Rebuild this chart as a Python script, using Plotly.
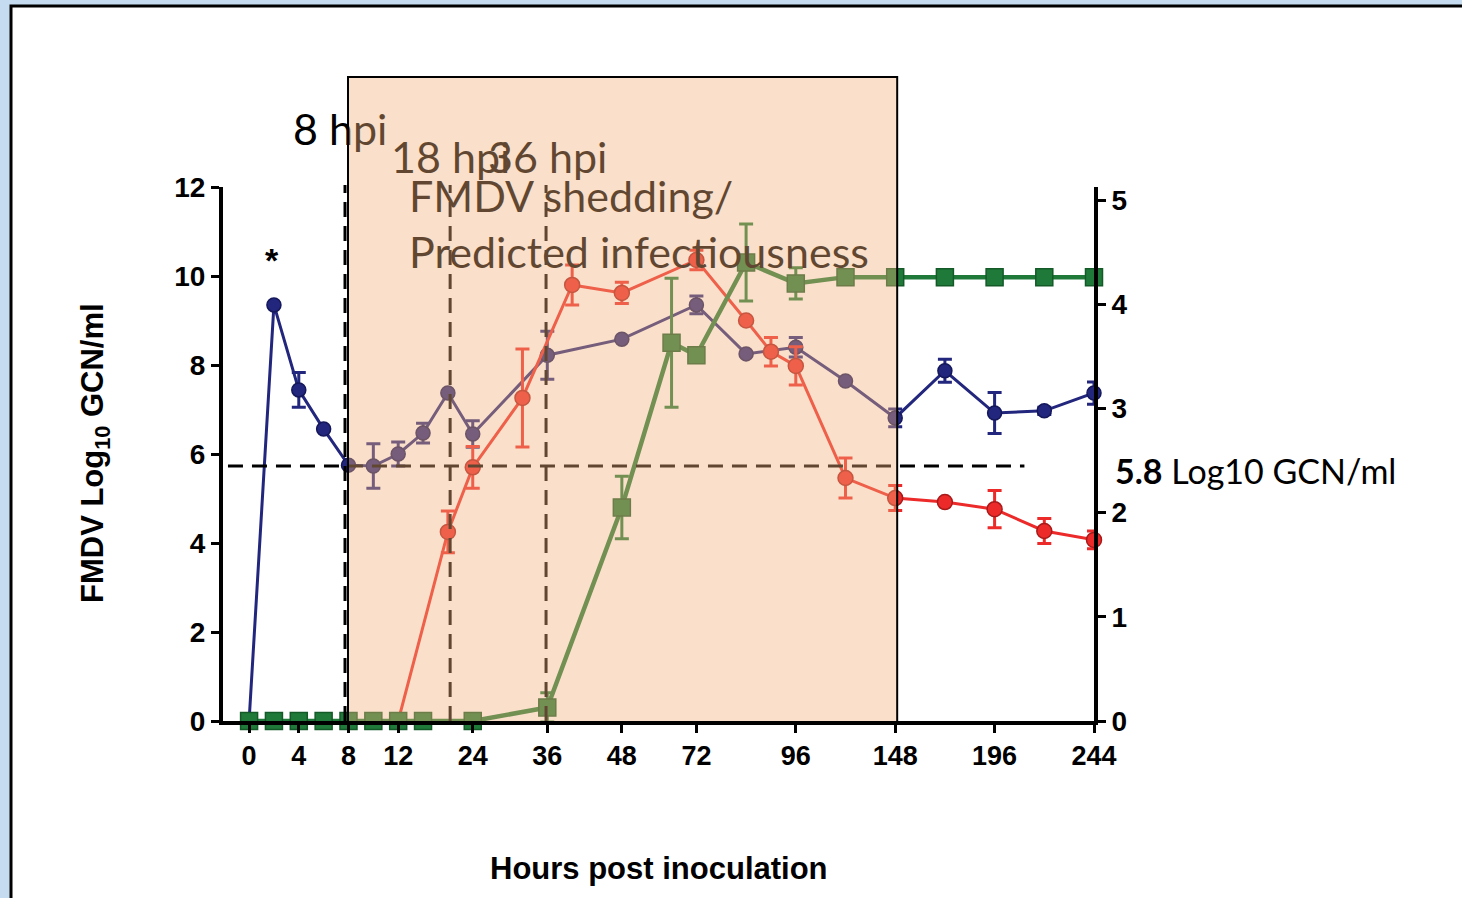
import plotly.graph_objects as go

# ---- data (x = sample index along the categorical time axis) ----
tick_pos = [0, 2, 4, 6, 9, 12, 15, 18, 22, 26, 30, 34]
tick_labels = ["0", "4", "8", "12", "24", "36", "48", "72", "96", "148", "196", "244"]

blue_x = [0, 1, 2, 3, 4, 5, 6, 7, 8, 9, 12, 15, 18, 20, 22, 24, 26, 28, 30, 32, 34]
blue_y = [0, 9.35, 7.44, 6.56, 5.75, 5.73, 6.0, 6.47, 7.37, 6.45, 8.22, 8.58, 9.35,
          8.25, 8.4, 7.64, 6.81, 7.87, 6.92, 6.97, 7.37]
blue_err = [0, 0, 0.39, 0, 0, 0.5, 0.27, 0.22, 0, 0.3, 0.54, 0, 0.2,
            0, 0.22, 0, 0.2, 0.26, 0.46, 0.08, 0.25]

red_x = [0, 1, 2, 3, 4, 5, 6, 8, 9, 11, 13, 15, 18, 20, 21, 22, 24, 26, 28, 30, 32, 34]
red_y = [0, 0, 0, 0, 0, 0, 0, 4.25, 5.7, 7.26, 9.8, 9.62, 10.36, 9.0, 8.3, 7.98,
         5.46, 5.01, 4.92, 4.76, 4.27, 4.07]
red_err = [0, 0, 0, 0, 0, 0, 0, 0.47, 0.47, 1.1, 0.45, 0.24, 0.22, 0, 0.32, 0.43,
           0.45, 0.28, 0, 0.42, 0.28, 0.2]

green_x = [0, 1, 2, 3, 4, 5, 6, 7, 9, 12, 15, 17, 18, 20, 22, 24, 26, 28, 30, 32, 34]
green_y = [0, 0, 0, 0, 0, 0, 0, 0, 0, 0.13, 2.05, 3.63, 3.51, 4.4, 4.2,
           4.26, 4.26, 4.26, 4.26, 4.26, 4.26]
green_err = [0, 0, 0, 0, 0, 0, 0, 0, 0, 0.14, 0.3, 0.62, 0, 0.37, 0.15,
             0, 0, 0, 0, 0, 0]

threshold = 5.73
hpi_lines = [3.86, 8.09, 11.95]
shade_x = [3.98, 26.08]

label_texts = ["8 hpi", "18 hpi", "36 hpi", "FMDV shedding/", "Predicted infectiousness"]
label_px = [290, 388, 485, 406, 406]   # left edge, picture pixels
label_py = [127, 155, 155, 194, 250]   # vertical centre, picture pixels

# plot-area geometry in picture pixels
PL, PR, PT, PB = 223, 1094, 187, 721
PW, PH = PR - PL, PB - PT


def px2paper(px):
    return (px - PL) / PW


def py2paper(py):
    return (PB - py) / PH


BLUE = "#22267c"
RED = "#ec2a2a"
GREEN = "#1f7a3a"
TICKFONT = dict(family="Liberation Sans, Arial", size=27, color="black", weight="bold")
LABELFONT = dict(family="Lato, Carlito, Calibri, sans-serif", size=43, color="black")

fig = go.Figure()

fig.add_trace(go.Scatter(
    x=blue_x, y=blue_y, mode="lines+markers",
    line=dict(color=BLUE, width=3),
    marker=dict(symbol="circle", size=14, color=BLUE, line=dict(color="#14175a", width=1.5)),
    error_y=dict(type="data", array=blue_err, color=BLUE, thickness=3, width=7),
    cliponaxis=False, showlegend=False))

fig.add_trace(go.Scatter(
    x=red_x, y=red_y, mode="lines+markers",
    line=dict(color=RED, width=3),
    marker=dict(symbol="circle", size=15, color=RED, line=dict(color="#a81a1a", width=1.5)),
    error_y=dict(type="data", array=red_err, color=RED, thickness=3, width=7),
    cliponaxis=False, showlegend=False))

fig.add_trace(go.Scatter(
    x=green_x, y=green_y, yaxis="y2", mode="lines+markers",
    line=dict(color=GREEN, width=4.5),
    marker=dict(symbol="square", size=17, color=GREEN, line=dict(color="#145a28", width=1.5)),
    error_y=dict(type="data", array=green_err, color=GREEN, thickness=3, width=7),
    cliponaxis=False, showlegend=False))

shapes = []
# white framed panel
shapes.append(dict(type="rect", xref="paper", yref="paper",
                   x0=px2paper(11), x1=px2paper(1480), y0=py2paper(920), y1=py2paper(6),
                   fillcolor="white", line=dict(color="black", width=3), layer="below"))
# text labels (drawn as shape labels so the shaded overlay sits on top of them)
for t, lx, ly in zip(label_texts, label_px, label_py):
    shapes.append(dict(type="rect", xref="paper", yref="paper",
                       x0=px2paper(lx), x1=px2paper(lx + 500),
                       y0=py2paper(ly + 10), y1=py2paper(ly - 10),
                       fillcolor="rgba(0,0,0,0)", line=dict(width=0), layer="above",
                       label=dict(text=t, textposition="middle left", padding=0, font=LABELFONT)))
# threshold line
shapes.append(dict(type="line", xref="x", yref="y", x0=-0.85, x1=31.2, y0=threshold, y1=threshold,
                   line=dict(color="black", width=3, dash="15px,9px"), layer="above"))
# vertical hpi lines
for xv in hpi_lines:
    shapes.append(dict(type="line", xref="x", yref="paper", x0=xv, x1=xv, y0=0, y1=py2paper(185),
                       line=dict(color="black", width=3, dash="15px,9px"), layer="above"))
# shaded infectious window overlay
top = py2paper(77)
shapes.append(dict(type="rect", xref="x", yref="paper", x0=shade_x[0], x1=shade_x[1], y0=0, y1=top,
                   fillcolor="rgba(242,177,122,0.4)", line=dict(width=0), layer="above"))
shapes.append(dict(type="path", xref="x", yref="paper",
                   path=f"M {shade_x[0]},0 L {shade_x[0]},{top} L {shade_x[1]},{top} L {shade_x[1]},0",
                   line=dict(color="black", width=2), layer="above"))

annotations = [
    dict(text="*", x=0.93, y=10.35, xref="x", yref="y", showarrow=False,
         font=dict(family="Liberation Sans, Arial", size=34, color="black", weight="bold")),
    dict(text="<b>5.8</b> Log10 GCN/ml", x=px2paper(1113), y=5.64, xref="paper", yref="y",
         showarrow=False, xanchor="left", yanchor="middle",
         font=dict(family="Lato, Carlito, sans-serif", size=34, color="black")),
    dict(text="Hours post inoculation", x=px2paper(659), y=py2paper(868),
         xref="paper", yref="paper", showarrow=False, xanchor="center", yanchor="middle",
         font=dict(family="Liberation Sans, Arial", size=31, color="black", weight="bold")),
    dict(text="FMDV Log<sub>10</sub> GCN/ml", x=px2paper(95), y=py2paper(453),
         xref="paper", yref="paper", showarrow=False, textangle=-90,
         xanchor="center", yanchor="middle",
         font=dict(family="Liberation Sans, Arial", size=31, color="black", weight="bold")),
]

fig.update_layout(
    width=1462, height=898,
    margin=dict(l=PL, r=1462 - PR, t=PT, b=898 - PB),
    paper_bgcolor="#c5dcf0",
    plot_bgcolor="rgba(0,0,0,0)",
    shapes=shapes,
    annotations=annotations,
    xaxis=dict(range=[-1.05, 34], tickmode="array", tickvals=tick_pos, ticktext=tick_labels,
               showline=True, linewidth=4, linecolor="black", ticks="outside", ticklen=8,
               tickwidth=3, tickcolor="black", tickfont=TICKFONT, showgrid=False, zeroline=False,
               ticklabelstandoff=0),
    yaxis=dict(range=[0, 12], tickmode="array", tickvals=[0, 2, 4, 6, 8, 10, 12],
               showline=True, linewidth=4, linecolor="black", ticks="outside", ticklen=8,
               tickwidth=3, tickcolor="black", tickfont=dict(TICKFONT, size=28),
               showgrid=False, zeroline=False),
    yaxis2=dict(range=[0, 5.125], overlaying="y", side="right", tickmode="array",
                tickvals=[0, 1, 2, 3, 4, 5], showline=True, linewidth=4, linecolor="black",
                ticks="outside", ticklen=8, tickwidth=3, tickcolor="black",
                tickfont=dict(TICKFONT, size=28), showgrid=False, zeroline=False),
)

fig.write_html("out.html", config={"displayModeBar": False},
               post_script="document.body.style.margin='0';document.body.style.padding='0';"
                           "document.body.style.overflow='hidden';")
